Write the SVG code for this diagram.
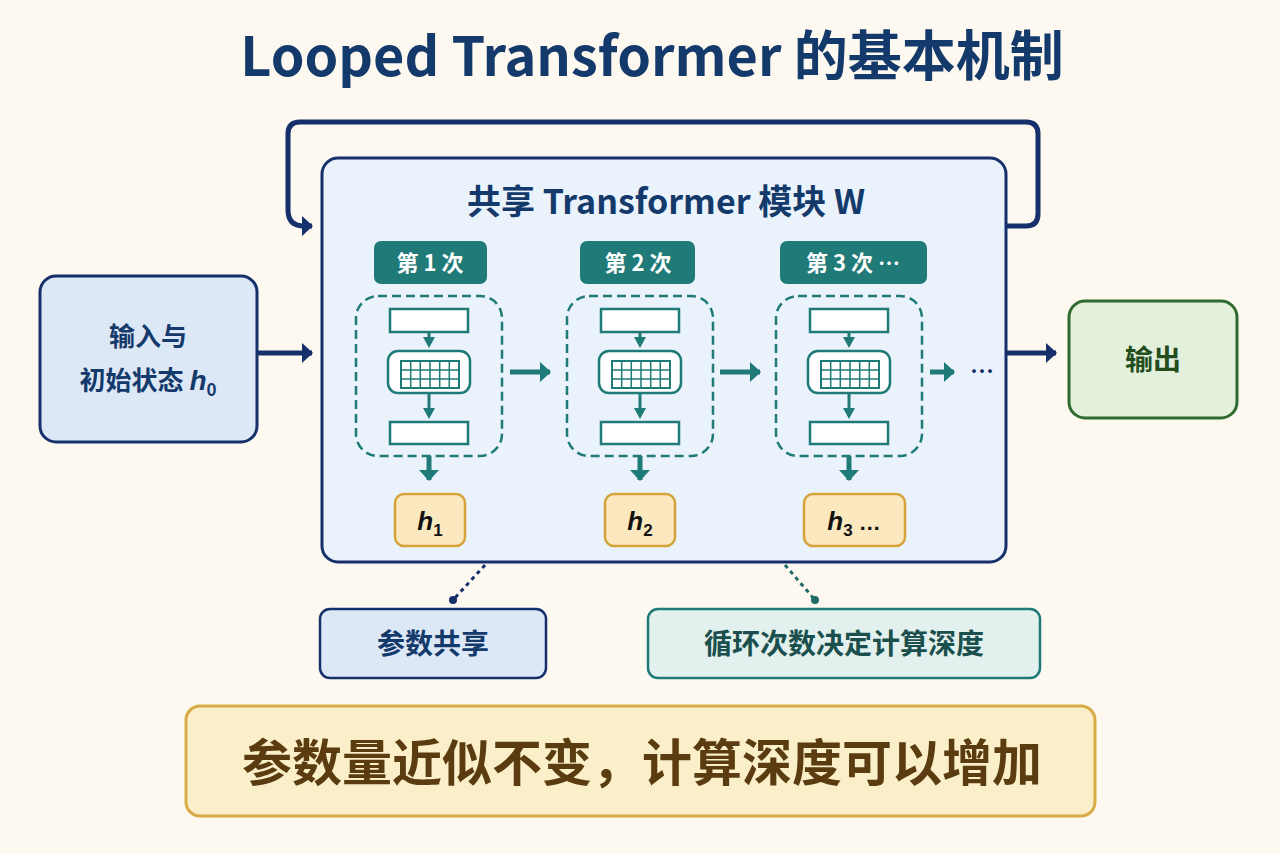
<svg xmlns="http://www.w3.org/2000/svg" width="1280" height="854" viewBox="0 0 1280 854">
<defs>
<marker id="nav" markerWidth="4" markerHeight="4" refX="2" refY="2" orient="auto" markerUnits="strokeWidth"><path d="M0,0 L2.2,2 L0,4 z" fill="#15306a"/></marker>
<marker id="tl" markerWidth="4" markerHeight="4" refX="2" refY="2" orient="auto" markerUnits="strokeWidth"><path d="M0,0 L2.2,2 L0,4 z" fill="#1f7a78"/></marker>
<marker id="tls" markerWidth="14" markerHeight="12" refX="4" refY="6" orient="auto" markerUnits="userSpaceOnUse"><path d="M0,0 L11,6 L0,12 z" fill="#1f7a78"/></marker>
<g id="blk">
<rect x="0" y="0" width="146" height="160" rx="22" fill="none" stroke="#1f7a78" stroke-width="2.5" stroke-dasharray="9 5"/>
<rect x="34" y="13" width="78" height="23" fill="#fff" stroke="#1f7a78" stroke-width="2.5"/>
<line x1="73" y1="36" x2="73" y2="45" stroke="#1f7a78" stroke-width="3" marker-end="url(#tls)"/>
<rect x="32" y="55" width="82" height="42" rx="10" fill="#fff" stroke="#1f7a78" stroke-width="2.5"/>
<rect x="45" y="65" width="58" height="27" fill="#fff" stroke="#1f7a78" stroke-width="2"/>
<path d="M54.7,65 v27 M64.3,65 v27 M74,65 v27 M83.7,65 v27 M93.3,65 v27 M45,74 h58 M45,83 h58" stroke="#1f7a78" stroke-width="1.5"/>
<line x1="73" y1="97" x2="73" y2="116" stroke="#1f7a78" stroke-width="3" marker-end="url(#tls)"/>
<rect x="34" y="126" width="78" height="22" fill="#fff" stroke="#1f7a78" stroke-width="2.5"/>
</g>
</defs>
<style>
text{font-family:"Noto Sans CJK SC","Noto Sans",sans-serif;font-weight:700;text-anchor:middle}
.tag{fill:#1f7a78}
.tagt{fill:#fff;font-size:22px}
.h{fill:#fbe8bf;stroke:#d4a33c;stroke-width:2.5}
.ht{font-family:"Liberation Sans",sans-serif;font-style:italic;font-size:26px;fill:#111}
</style>
<rect width="1280" height="854" fill="#fdf9f0"/>
<text x="652" y="76" font-size="54" fill="#143a6b">Looped Transformer 的基本机制</text>

<g id="shared">
<rect x="322" y="158" width="684" height="404" rx="16" fill="#eaf2fb" stroke="#15306a" stroke-width="3"/>
<text x="666" y="214" font-size="34" fill="#143a6b">共享 Transformer 模块 W</text>
</g>
<g id="input"><rect x="40" y="276" width="217" height="166" rx="16" fill="#dde8f7" stroke="#15306a" stroke-width="3"/>
<text x="148" y="346" font-size="26" fill="#143a6b">输入与</text>
<text x="148" y="390" font-size="26" fill="#143a6b">初始状态 <tspan font-family="Liberation Sans" font-style="italic" font-size="28">h</tspan><tspan font-size="17" dy="6">0</tspan></text></g>

<g id="iter1"><rect class="tag" x="374" y="241" width="113" height="43" rx="7"/><text class="tagt" x="430" y="271">第 1 次</text>
<use href="#blk" x="356" y="296"/>
<rect class="h" x="395" y="494" width="70" height="52" rx="9"/><text class="ht" x="430" y="530">h<tspan font-size="17" dy="6" font-style="normal">1</tspan></text></g>

<g id="iter2"><rect class="tag" x="580" y="241" width="115" height="43" rx="7"/><text class="tagt" x="638" y="271">第 2 次</text>
<use href="#blk" x="567" y="296"/>
<rect class="h" x="605" y="494" width="70" height="52" rx="9"/><text class="ht" x="640" y="530">h<tspan font-size="17" dy="6" font-style="normal">2</tspan></text></g>

<g id="iter3"><rect class="tag" x="780" y="241" width="147" height="43" rx="7"/><text class="tagt" x="853" y="271">第 3 次 …</text>
<use href="#blk" x="776" y="296"/>
<rect class="h" x="804" y="494" width="101" height="52" rx="9"/><text class="ht" x="854" y="530">h<tspan font-size="17" dy="6" font-style="normal">3</tspan><tspan font-style="normal" font-size="22" dy="-6"> …</tspan></text>
<text x="982" y="380" font-size="24" fill="#15306a">…</text></g>

<g id="output"><rect x="1069" y="301" width="168" height="117" rx="16" fill="#e3f0dc" stroke="#2f6b30" stroke-width="3"/>
<text x="1153" y="370" font-size="28" fill="#234d1d">输出</text></g>

<g id="note1"><rect x="320" y="609" width="226" height="69" rx="10" fill="#dde8f7" stroke="#15306a" stroke-width="2.5"/>
<text x="433" y="654" font-size="28" fill="#143a6b">参数共享</text></g>
<g id="note2"><rect x="648" y="609" width="392" height="69" rx="10" fill="#e2f1ee" stroke="#1f7a78" stroke-width="2.5"/>
<text x="844" y="654" font-size="28" fill="#1a4f4d">循环次数决定计算深度</text></g>
<g id="summary"><rect x="186" y="706" width="909" height="110" rx="14" fill="#fbefc9" stroke="#d8ab47" stroke-width="3"/>
<text x="642" y="781" font-size="50" fill="#5a3c10">参数量近似不变，计算深度可以增加</text></g>

<g id="connectors" fill="none">
<path d="M1006,226 H1026 Q1038,226 1038,214 V134 Q1038,122 1026,122 H300 Q288,122 288,134 V210 Q288,226 304,226 H312" stroke="#15306a" stroke-width="5" marker-end="url(#nav)"/>
<line x1="257" y1="353" x2="312" y2="353" stroke="#15306a" stroke-width="5" marker-end="url(#nav)"/>
<line x1="1006" y1="353" x2="1056" y2="353" stroke="#15306a" stroke-width="5" marker-end="url(#nav)"/>
<line x1="510" y1="372" x2="550" y2="372" stroke="#1f7a78" stroke-width="5" marker-end="url(#tl)"/>
<line x1="720" y1="372" x2="760" y2="372" stroke="#1f7a78" stroke-width="5" marker-end="url(#tl)"/>
<line x1="930" y1="372" x2="954" y2="372" stroke="#1f7a78" stroke-width="5" marker-end="url(#tl)"/>
<line x1="429" y1="456" x2="429" y2="480" stroke="#1f7a78" stroke-width="5" marker-end="url(#tl)"/>
<line x1="640" y1="456" x2="640" y2="480" stroke="#1f7a78" stroke-width="5" marker-end="url(#tl)"/>
<line x1="849" y1="456" x2="849" y2="480" stroke="#1f7a78" stroke-width="5" marker-end="url(#tl)"/>
<line x1="485" y1="565" x2="453" y2="600" stroke="#15306a" stroke-width="3" stroke-dasharray="4 4"/>
<circle cx="453" cy="600" r="4" fill="#15306a"/>
<line x1="785" y1="565" x2="815" y2="600" stroke="#1f6a68" stroke-width="3" stroke-dasharray="4 4"/>
<circle cx="815" cy="600" r="4" fill="#1f6a68"/>
</g>
</svg>
